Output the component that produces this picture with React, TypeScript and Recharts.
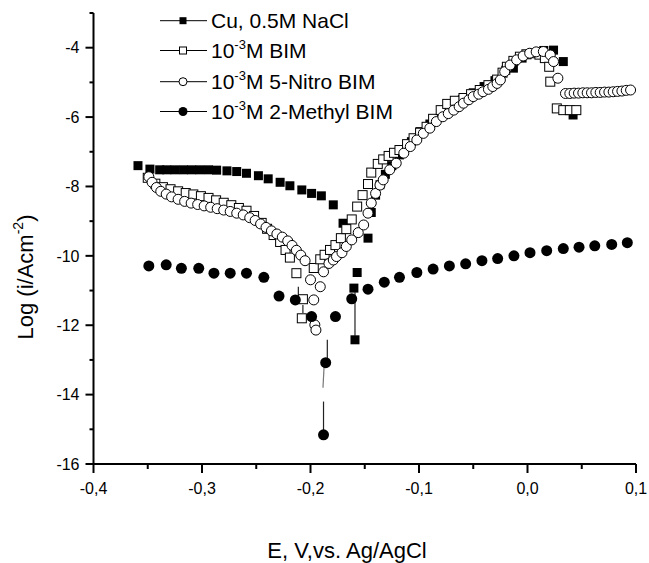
import { ScatterChart, Scatter, XAxis, YAxis } from 'recharts';

const FONT = '"Liberation Sans", Arial, Helvetica, sans-serif';

// Cu, 0.5M NaCl (filled squares)
const cuPotential = [
  -0.359, -0.348, -0.339, -0.3325, -0.325, -0.317, -0.3095, -0.302,
  -0.294, -0.2865, -0.277, -0.268, -0.259, -0.248, -0.239, -0.228,
  -0.219, -0.208, -0.199, -0.19, -0.179, -0.17, -0.159, -0.16,
  -0.157, -0.147, -0.144, -0.14, -0.136, -0.131, -0.125, -0.118,
  -0.107, -0.099, -0.09, -0.079, -0.07, -0.06, -0.05, -0.04,
  -0.03, -0.02, -0.013, -0.005, 0.005, 0.015, 0.024, 0.033,
  0.042,
];
const cuLogI = [
  -7.4, -7.5, -7.52, -7.52, -7.52, -7.52, -7.52, -7.52,
  -7.52, -7.53, -7.55, -7.57, -7.62, -7.69, -7.78, -7.88,
  -7.98, -8.1, -8.2, -8.27, -8.53, -9.06, -12.42, -10.93,
  -10.48, -9.49, -8.75, -8.25, -7.95, -7.65, -7.4, -7.09,
  -6.71, -6.42, -6.2, -5.94, -5.7, -5.5, -5.3, -5.12,
  -4.95, -4.65, -4.59, -4.3, -4.15, -4.08, -4.07, -4.4,
  -5.94,
];

// 10^-3 M BIM (open squares)
const bimPotential = [
  -0.35, -0.343, -0.336, -0.329, -0.322, -0.315, -0.308, -0.301,
  -0.294, -0.287, -0.28, -0.273, -0.266, -0.259, -0.252, -0.245,
  -0.24, -0.234, -0.228, -0.223, -0.219, -0.213, -0.207, -0.208,
  -0.197, -0.191, -0.187, -0.182, -0.177, -0.172, -0.167, -0.162,
  -0.157, -0.152, -0.147, -0.144, -0.138, -0.133, -0.128, -0.123,
  -0.118, -0.111, -0.105, -0.099, -0.093, -0.087, -0.08, -0.074,
  -0.067, -0.059, -0.052, -0.044, -0.036, -0.028, -0.023, -0.019,
  -0.013, -0.007, -0.001, 0.005, 0.011, 0.016, 0.02, 0.021,
  0.027, 0.033, 0.039, 0.045,
];
const bimLogI = [
  -7.75, -7.92, -8.02, -8.08, -8.14, -8.19, -8.23, -8.28,
  -8.33, -8.4, -8.47, -8.54, -8.62, -8.7, -8.85, -9.05,
  -9.22, -9.4, -9.6, -9.83, -10.05, -10.5, -11.25, -11.8,
  -10.35, -10.1, -9.97, -9.83, -9.69, -9.49, -9.23, -8.95,
  -8.58, -8.25, -7.93, -7.6, -7.35, -7.22, -7.12, -7.03,
  -6.95, -6.78, -6.61, -6.45, -6.28, -6.05, -5.8, -5.62,
  -5.53, -5.45, -5.34, -5.22, -5.08, -4.92, -4.72, -4.55,
  -4.38, -4.26, -4.19, -4.16, -4.2, -4.3, -4.55, -4.98,
  -5.75, -5.8, -5.8, -5.8,
];

// 10^-3 M 5-Nitro BIM (open circles)
const nitroPotential = [
  -0.349, -0.346, -0.342, -0.338, -0.333, -0.328, -0.322, -0.316,
  -0.31, -0.304, -0.298, -0.292, -0.286, -0.28, -0.274, -0.268,
  -0.262, -0.256, -0.251, -0.246, -0.241, -0.236, -0.231, -0.226,
  -0.221, -0.217, -0.213, -0.209, -0.205, -0.2, -0.197, -0.196,
  -0.195, -0.191, -0.188, -0.183, -0.179, -0.176, -0.171, -0.167,
  -0.162, -0.156, -0.151, -0.147, -0.144, -0.14, -0.136, -0.133,
  -0.127, -0.121, -0.114, -0.108, -0.102, -0.096, -0.09, -0.084,
  -0.078, -0.073, -0.068, -0.063, -0.059, -0.054, -0.05, -0.045,
  -0.041, -0.036, -0.032, -0.028, -0.025, -0.021, -0.016, -0.01,
  -0.004, 0.002, 0.008, 0.0146, 0.021, 0.024, 0.028, 0.035,
  0.039, 0.043, 0.047, 0.051, 0.055, 0.059, 0.063, 0.067,
  0.071, 0.075, 0.079, 0.083, 0.087, 0.091, 0.095,
];
const nitroLogI = [
  -7.72, -7.88, -8.03, -8.14, -8.22, -8.3, -8.37, -8.43,
  -8.48, -8.52, -8.56, -8.6, -8.64, -8.68, -8.72, -8.77,
  -8.82, -8.9, -8.98, -9.08, -9.18, -9.28, -9.37, -9.46,
  -9.57, -9.7, -9.84, -9.98, -10.14, -10.69, -11.27, -11.99,
  -12.14, -10.89, -10.46, -10.22, -10.12, -10.02, -9.91, -9.73,
  -9.54, -9.33, -9.11, -8.77, -8.48, -8.2, -7.96, -7.81,
  -7.52, -7.33, -7.04, -6.85, -6.66, -6.47, -6.32, -6.13,
  -5.99, -5.9, -5.8, -5.7, -5.6, -5.5, -5.41, -5.34,
  -5.27, -5.2, -5.12, -5.03, -4.93, -4.69, -4.5, -4.35,
  -4.24, -4.16, -4.12, -4.11, -4.21, -4.4, -4.88, -5.32,
  -5.32, -5.31, -5.31, -5.3, -5.3, -5.3, -5.29, -5.29,
  -5.28, -5.28, -5.27, -5.26, -5.25, -5.23, -5.22,
];

// 10^-3 M 2-Methyl BIM (filled circles)
const methylPotential = [
  -0.349, -0.333, -0.319, -0.303, -0.289, -0.274, -0.259, -0.243,
  -0.229, -0.214, -0.199, -0.186, -0.188, -0.177, -0.162, -0.147,
  -0.132, -0.118, -0.102, -0.087, -0.072, -0.057, -0.042, -0.0275,
  -0.0125, 0.0023, 0.0177, 0.033, 0.0475, 0.062, 0.0776, 0.092,
];
const methylLogI = [
  -10.29, -10.26, -10.36, -10.36, -10.5, -10.5, -10.5, -10.62,
  -11.16, -11.27, -11.75, -13.08, -15.16, -11.75, -11.24, -10.96,
  -10.76, -10.62, -10.48, -10.38, -10.29, -10.23, -10.14, -10.08,
  -10.0, -9.91, -9.85, -9.79, -9.75, -9.71, -9.67, -9.62,
];

// thin connecting lines visible at the sharp dips
const spikeMethylA = [[-0.188, -15.16], [-0.188, -14.2]];
const spikeMethylB = [[-0.1885, -13.8], [-0.1875, -13.2]];
const spikeMethylC = [[-0.1845, -12.95], [-0.1845, -12.42]];
const spikeCu = [[-0.159, -12.3], [-0.159, -11.05]];
const spikeBimA = [[-0.2112, -10.89], [-0.2112, -11.13]];
const spikeBimB = [[-0.207, -11.42], [-0.207, -11.65]];

const xTicks = [-0.4, -0.35, -0.3, -0.25, -0.2, -0.15, -0.1, -0.05, 0, 0.05, 0.1];
const yTicks = [-16, -15, -14, -13, -12, -11, -10, -9, -8, -7, -6, -5, -4, -3];

const toPoints = (xs: number[], ys: number[]) => xs.map((x, i) => ({ x, y: ys[i] }));
const pairPoints = (p: number[][]) => p.map(([x, y]) => ({ x, y }));

const FilledSquare = ({ cx, cy, s = 9 }: any) => (
  <rect x={cx - s / 2} y={cy - s / 2} width={s} height={s} fill="#000" />
);
const OpenSquare = ({ cx, cy, s = 9 }: any) => (
  <rect x={cx - s / 2} y={cy - s / 2} width={s} height={s} fill="#fff" stroke="#000" strokeWidth={1} />
);
const OpenCircle = ({ cx, cy, s = 10 }: any) => (
  <circle cx={cx} cy={cy} r={s / 2} fill="#fff" stroke="#000" strokeWidth={1} />
);
const FilledCircle = ({ cx, cy, s = 11 }: any) => <circle cx={cx} cy={cy} r={s / 2} fill="#000" />;
const NoShape = () => <g />;

const XTick = ({ x, y, payload }: any) => {
  const v = payload.value;
  const major = Math.abs(Math.round(v * 100)) % 10 === 0;
  return (
    <g>
      <line x1={x} y1={y} x2={x} y2={y + (major ? 9 : 5)} stroke="#000" strokeWidth={2} />
      {major && (
        <text x={x} y={y + 30} textAnchor="middle" fontSize={16} fontFamily={FONT} fill="#000">
          {v.toFixed(1).replace('.', ',')}
        </text>
      )}
    </g>
  );
};

const YTick = ({ x, y, payload }: any) => {
  const v = payload.value;
  const major = v % 2 === 0;
  return (
    <g>
      <line x1={x} y1={y} x2={x - (major ? 8 : 4)} y2={y} stroke="#000" strokeWidth={2} />
      {major && (
        <text x={x - 14} y={y} dy="0.36em" textAnchor="end" fontSize={16} fontFamily={FONT} fill="#000">
          {v}
        </text>
      )}
    </g>
  );
};

const legendRows = [
  { label: 'Cu, 0.5M NaCl', sup: false, Marker: FilledSquare, size: 7 },
  { label: 'M BIM', sup: true, Marker: OpenSquare, size: 7 },
  { label: 'M 5-Nitro BIM', sup: true, Marker: OpenCircle, size: 8 },
  { label: 'M 2-Methyl BIM', sup: true, Marker: FilledCircle, size: 9 },
];
const legendY = [20.7, 50.5, 81.7, 111.5];

export default function App() {
  return (
    <div style={{ position: 'absolute', left: 0, top: 0, width: 649, height: 563, background: '#fff' }}>
      <ScatterChart width={649} height={563} margin={{ top: 13, right: 13, bottom: 0, left: 0 }}>
        <XAxis
          type="number"
          dataKey="x"
          domain={[-0.4, 0.1]}
          ticks={xTicks}
          interval={0}
          height={99}
          tickSize={0}
          tickMargin={0}
          tickLine={false}
          tick={<XTick />}
          axisLine={{ stroke: '#000', strokeWidth: 2 }}
          allowDataOverflow
        />
        <YAxis
          type="number"
          dataKey="y"
          domain={[-16, -3]}
          ticks={yTicks}
          interval={0}
          width={93.5}
          tickSize={0}
          tickMargin={0}
          tickLine={false}
          tick={<YTick />}
          axisLine={{ stroke: '#000', strokeWidth: 2 }}
          allowDataOverflow
        />
        {[spikeMethylA, spikeMethylB, spikeMethylC, spikeCu, spikeBimA, spikeBimB].map((s, i) => (
          <Scatter
            key={`spike-${i}`}
            data={pairPoints(s)}
            line={{ stroke: i === 1 ? '#777' : '#222', strokeWidth: 1.2 }}
            shape={<NoShape />}
            isAnimationActive={false}
          />
        ))}
        <Scatter data={toPoints(cuPotential, cuLogI)} shape={<FilledSquare />} isAnimationActive={false} />
        <Scatter data={toPoints(bimPotential, bimLogI)} shape={<OpenSquare />} isAnimationActive={false} />
        <Scatter data={toPoints(nitroPotential, nitroLogI)} shape={<OpenCircle />} isAnimationActive={false} />
        <Scatter data={toPoints(methylPotential, methylLogI)} shape={<FilledCircle />} isAnimationActive={false} />
      </ScatterChart>
      <svg
        width={649}
        height={563}
        style={{ position: 'absolute', left: 0, top: 0, pointerEvents: 'none' }}
      >
        {legendRows.map(({ label, sup, Marker, size }, i) => {
          const cy = legendY[i];
          return (
            <g key={label}>
              <line x1={160} y1={cy} x2={207} y2={cy} stroke="#000" strokeWidth={1} />
              <Marker cx={183} cy={cy} s={size} />
              <text x={211} y={cy + 7.5} fontSize={21} fontFamily={FONT} fill="#000">
                {sup ? (
                  <>
                    10
                    <tspan fontSize={13} dy={-9}>-3</tspan>
                    <tspan dy={9}>{label}</tspan>
                  </>
                ) : (
                  label
                )}
              </text>
            </g>
          );
        })}
        <text
          transform="translate(33 277) rotate(-90)"
          textAnchor="middle"
          fontSize={22}
          fontFamily={FONT}
          fill="#000"
        >
          Log (i/Acm
          <tspan fontSize={14} dy={-10}>-2</tspan>
          <tspan dy={10}>)</tspan>
        </text>
        <text x={347} y={558} textAnchor="middle" fontSize={22} fontFamily={FONT} fill="#000">
          E, V,vs. Ag/AgCl
        </text>
      </svg>
    </div>
  );
}
